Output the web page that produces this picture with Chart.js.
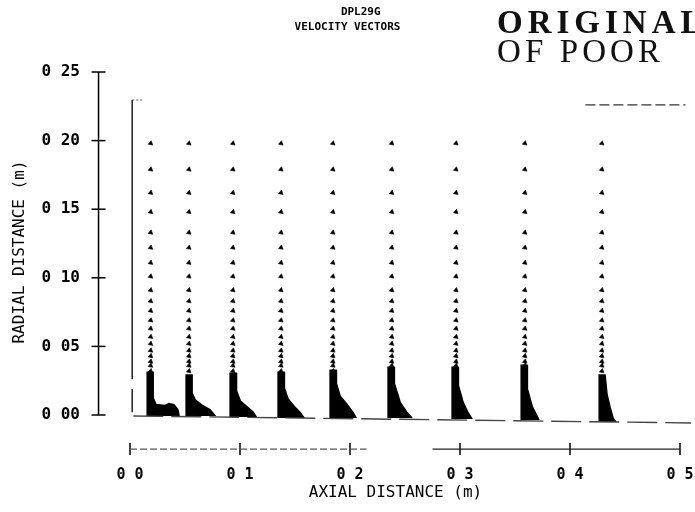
<!DOCTYPE html>
<html>
<head>
<meta charset="utf-8">
<script src="https://cdn.jsdelivr.net/npm/chart.js@4.4.1/dist/chart.umd.min.js"></script>
<style>
html,body{margin:0;padding:0;background:#fff;overflow:hidden;}
#wrap{position:relative;width:695px;height:512px;overflow:hidden;background:#fff;}
#c{position:absolute;left:0;top:0;}
.stamp{position:absolute;left:497px;white-space:nowrap;font-family:"Liberation Serif",serif;color:#111;font-size:33px;line-height:1;}
#s1{top:6px;font-weight:bold;letter-spacing:5px;}
#s2{top:35px;letter-spacing:4.1px;}
.far{margin-left:60px;}
</style>
</head>
<body>
<div id="wrap">
<canvas id="c" width="695" height="512"></canvas>
<div class="stamp" id="s1">ORIGINAL<span class="far">PAGE IS</span></div>
<div class="stamp" id="s2">OF POOR<span class="far">QUALITY</span></div>
</div>
<script>
// ---- data ----
const titleLines = ['    DPL29G', 'VELOCITY VECTORS'];
const xTickValues = [0, 0.1, 0.2, 0.3, 0.4, 0.5];
const xTickLabels = ['0 0', '0 1', '0 2', '0 3', '0 4', '0 5'];
const yTickValues = [0, 0.05, 0.10, 0.15, 0.20, 0.25];
const yTickLabels = ['0 00', '0 05', '0 10', '0 15', '0 20', '0 25'];

// axial stations of the vector columns (m)
const stationX = [0.0188, 0.0536, 0.0936, 0.1373, 0.1845, 0.2380, 0.2964, 0.3590, 0.4290];
// radial positions of the sparse vector heads (m)
const vectorRows = [0.198, 0.179, 0.162, 0.148, 0.133, 0.122, 0.111, 0.101, 0.091, 0.083,
                    0.076, 0.069, 0.063, 0.057, 0.052, 0.047, 0.043, 0.039, 0.036, 0.032];

// outlines of the dense near-wall vector regions [x, y]
const col1Outline = [[0.0155,-0.0007],[0.0155,0.0313],[0.0212,0.0313],[0.0212,0.0124],[0.0238,0.0077],[0.0318,0.0070],[0.0355,0.0084],[0.0400,0.0077],[0.0436,0.0040],[0.0448,-0.0007]];
const col2Outline = [[0.0509,-0.0007],[0.0509,0.0292],[0.0566,0.0292],[0.0566,0.0160],[0.0595,0.0110],[0.0655,0.0073],[0.0727,0.0040],[0.0778,-0.0007]];
const col3Outline = [[0.0909,-0.0015],[0.0909,0.0306],[0.0966,0.0306],[0.0970,0.0175],[0.1005,0.0102],[0.1068,0.0058],[0.1122,0.0020],[0.1150,-0.0015]];
const col4Outline = [[0.1345,-0.0022],[0.1345,0.0313],[0.1402,0.0313],[0.1405,0.0195],[0.1440,0.0115],[0.1495,0.0062],[0.1550,0.0018],[0.1585,-0.0022]];
const col5Outline = [[0.1818,-0.0022],[0.1818,0.0328],[0.1875,0.0328],[0.1878,0.0230],[0.1912,0.0138],[0.1975,0.0078],[0.2030,0.0018],[0.2058,-0.0022]];
const col6Outline = [[0.2345,-0.0022],[0.2345,0.0350],[0.2402,0.0350],[0.2405,0.0230],[0.2458,0.0092],[0.2520,0.0018],[0.2566,-0.0022]];
const col7Outline = [[0.2927,-0.0029],[0.2927,0.0350],[0.2984,0.0350],[0.2987,0.0215],[0.3030,0.0092],[0.3076,0.0015],[0.3112,-0.0029]];
const col8Outline = [[0.3555,-0.0036],[0.3555,0.0364],[0.3611,0.0364],[0.3614,0.0190],[0.3658,0.0062],[0.3702,-0.0007],[0.3720,-0.0036]];
const col9Outline = [[0.4264,-0.0051],[0.4264,0.0292],[0.4320,0.0292],[0.4338,0.0150],[0.4366,0.0055],[0.4393,-0.0022],[0.4420,-0.0051]];

// geometry lines
const inletLine = [[0.0020,0.2296],[0.0020,0.026],null,[0.0020,0.019],[0.0020,0.002]];
const inletStub = [[0.0020,0.2296],[0.0120,0.2296]];
const outerWall = [[0.414,0.2260],[0.505,0.2260]];
const wallLine = [[0.003,-0.0007],[0.510,-0.0058]];

// axis placement
const yAxisX = -0.0286;
const xAxisY = -0.0248;
const xAxisSegA = [0, 0.215];
const xAxisSegB = [0.275, 0.5];
const xMin = -0.030909, xMax = 0.51364;
const yMin = -0.026968, yMax = 0.26458;

// ---- build ----
const pts = a => a.map(p => p === null ? {x: null, y: null} : {x: p[0], y: p[1]});
const ink = '#000';
const datasets = [];

function lineDs(data, opts) {
  return Object.assign({data: data, showLine: true, borderColor: ink, borderWidth: 1.5,
    pointRadius: 0, fill: false, clip: false, spanGaps: false}, opts || {});
}

// y axis
datasets.push(lineDs(pts([[yAxisX, yTickValues[0]], [yAxisX, yTickValues[yTickValues.length - 1]]])));
datasets.push({data: yTickValues.map(v => ({x: yAxisX, y: v})), showLine: false, pointStyle: 'line',
  pointRadius: 7, pointBorderColor: ink, pointBorderWidth: 1.5, pointRotation: 0, clip: false});
// x axis
datasets.push(lineDs(pts([[xAxisSegA[0], xAxisY], [xAxisSegA[1], xAxisY]]), {borderColor: '#555', borderWidth: 1.2, borderDash: [7, 3]}));
datasets.push(lineDs(pts([[xAxisSegB[0], xAxisY], [xAxisSegB[1], xAxisY]]), {borderColor: '#222', borderWidth: 1.3}));
datasets.push({data: xTickValues.map(v => ({x: v, y: xAxisY})), showLine: false, pointStyle: 'line',
  pointRadius: 6, pointBorderColor: ink, pointBorderWidth: 1.5, pointRotation: 90, clip: false});

// geometry
datasets.push(lineDs(pts(inletLine), {borderColor: '#222', borderWidth: 1.5}));
datasets.push(lineDs(pts(inletStub), {borderColor: '#666', borderWidth: 1, borderDash: [2, 2]}));
datasets.push(lineDs(pts(outerWall), {borderColor: '#333', borderWidth: 1.3, borderDash: [10, 4]}));
datasets.push(lineDs(pts(wallLine), {borderColor: '#444', borderWidth: 1.4, borderDash: [30, 8]}));

// dense regions
[col1Outline, col2Outline, col3Outline, col4Outline, col5Outline, col6Outline, col7Outline, col8Outline, col9Outline]
  .forEach(o => datasets.push(lineDs(pts(o), {borderWidth: 1.2, backgroundColor: ink, fill: 'shape'})));

// vector heads
stationX.forEach(sx => {
  datasets.push({data: vectorRows.map(y => ({x: sx, y: y})), showLine: false, pointStyle: 'triangle',
    pointRadius: 2.7, pointRotation: 250, pointBackgroundColor: ink, pointBorderColor: ink, pointBorderWidth: 0.6, clip: false});
});

const tickFont = {family: 'DejaVu Sans Mono', size: 15, weight: 'bold'};
const titleFont = {family: 'DejaVu Sans Mono', size: 16, lineHeight: 1.2};

new Chart(document.getElementById('c'), {
  type: 'scatter',
  data: {datasets: datasets},
  options: {
    responsive: false,
    animation: false,
    events: [],
    layout: {padding: 0, autoPadding: false},
    plugins: {
      legend: {display: false},
      tooltip: {enabled: false},
      title: {display: true, text: titleLines, color: ink,
        font: {family: 'DejaVu Sans Mono', size: 11, weight: 'bold', lineHeight: 15 / 11},
        padding: {top: 4.5, bottom: 17.5}}
    },
    scales: {
      x: {
        type: 'linear', position: 'bottom', min: xMin, max: xMax,
        afterBuildTicks: s => { s.ticks = xTickValues.map(v => ({value: v})); },
        afterFit: s => { s.height = 60; s.paddingLeft = 0; s.paddingRight = 0; },
        grid: {display: false, drawTicks: false},
        border: {display: false},
        ticks: {padding: 14, autoSkip: false, maxRotation: 0, color: ink, font: tickFont,
          callback: (v, i) => xTickLabels[i]},
        title: {display: true, text: 'AXIAL DISTANCE (m)', color: ink, font: titleFont, padding: {top: 0, bottom: 10}}
      },
      y: {
        type: 'linear', position: 'left', min: yMin, max: yMax,
        afterBuildTicks: s => { s.ticks = yTickValues.map(v => ({value: v})); },
        afterFit: s => { s.width = 96; s.paddingTop = 0; s.paddingBottom = 0; },
        grid: {display: false, drawTicks: false},
        border: {display: false},
        ticks: {padding: 16, autoSkip: false, color: ink, font: Object.assign({}, tickFont, {size: 16}),
          callback: (v, i) => yTickLabels[i]},
        title: {display: true, text: 'RADIAL DISTANCE (m)', color: ink, font: titleFont, padding: {top: 10, bottom: 0}}
      }
    }
  }
});
</script>
</body>
</html>
